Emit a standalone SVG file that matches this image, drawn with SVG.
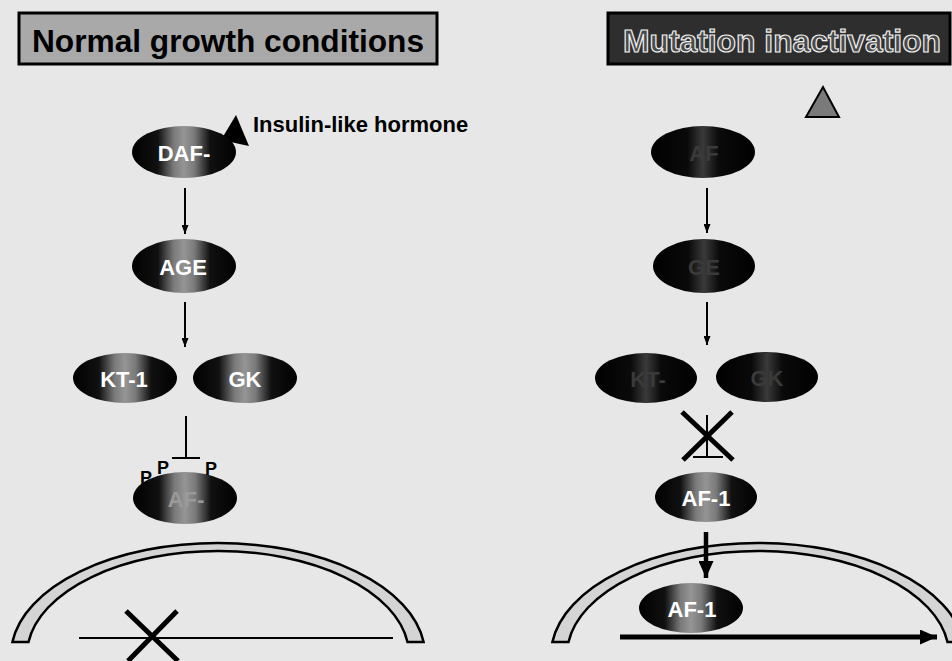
<svg xmlns="http://www.w3.org/2000/svg" width="952" height="661" viewBox="0 0 952 661">
<defs>
<linearGradient id="gL" x1="0" y1="0" x2="1" y2="0">
<stop offset="0" stop-color="#000"/><stop offset="0.25" stop-color="#111"/><stop offset="0.4" stop-color="#7a7a7a"/><stop offset="0.5" stop-color="#959595"/><stop offset="0.6" stop-color="#7a7a7a"/><stop offset="0.75" stop-color="#111"/><stop offset="1" stop-color="#000"/>
</linearGradient>
<linearGradient id="gR" x1="0" y1="0" x2="1" y2="0">
<stop offset="0" stop-color="#000"/><stop offset="0.35" stop-color="#0a0a0a"/><stop offset="0.5" stop-color="#3a3a3a"/><stop offset="0.65" stop-color="#0a0a0a"/><stop offset="1" stop-color="#000"/>
</linearGradient>
<marker id="ah" viewBox="0 0 10 10" refX="10" refY="5" markerWidth="9" markerHeight="7" markerUnits="userSpaceOnUse" orient="auto" preserveAspectRatio="none">
<path d="M0,0 L10,5 L0,10 z" fill="#000"/>
</marker>
<marker id="ahB" viewBox="0 0 10 10" refX="10" refY="5" markerWidth="17" markerHeight="15" markerUnits="userSpaceOnUse" orient="auto" preserveAspectRatio="none">
<path d="M0,0 L10,5 L0,10 z" fill="#000"/>
</marker>
<style>
.lbl{font-family:"Liberation Sans",Arial,sans-serif;font-weight:bold;}
.etxt{font-family:"Liberation Sans",Arial,sans-serif;font-weight:bold;font-size:22px;text-anchor:middle;}
.elL{fill:url(#gL);}
.elR{fill:url(#gR);}
.band{fill:#d4d4d4;stroke:#000;stroke-width:2.5;}
.thin{stroke:#000;stroke-width:2;fill:none;}
.cross{stroke:#000;stroke-width:5;fill:none;}
</style>
</defs>
<rect x="0" y="0" width="952" height="661" fill="#e7e7e7"/>

<g id="header-normal">
<rect x="19" y="13" width="418" height="51" fill="#a9a9a9" stroke="#000" stroke-width="3"/>
<text class="lbl" x="228" y="52" font-size="32" text-anchor="middle" fill="#000" textLength="392" lengthAdjust="spacingAndGlyphs">Normal growth conditions</text>
</g>
<g id="header-mutation">
<rect x="608" y="13" width="342" height="51" fill="#2e2e2e" stroke="#000" stroke-width="3"/>
<text class="lbl" x="782" y="52" font-size="32" text-anchor="middle" fill="#4a4a4a" stroke="#f0f0f0" stroke-width="1.2" textLength="318" lengthAdjust="spacingAndGlyphs">Mutation inactivation</text>
</g>

<g id="nucleus-left">
<path class="band" d="M12.4,642 A207,112 0 0 1 423.6,642 L407.5,642 A191,104 0 0 0 28.5,642 Z"/>
</g>
<g id="nucleus-right">
<path class="band" d="M552.4,642 A207,112 0 0 1 963.6,642 L947.5,642 A191,104 0 0 0 568.5,642 Z"/>
</g>

<g id="connectors">
<line class="thin" x1="185" y1="188" x2="185" y2="234" marker-end="url(#ah)"/>
<line class="thin" x1="185" y1="302" x2="185" y2="347" marker-end="url(#ah)"/>
<line class="thin" x1="186" y1="416" x2="186" y2="458"/>
<line class="thin" x1="172" y1="458" x2="200" y2="458"/>
<line class="thin" x1="707" y1="188" x2="707" y2="233" marker-end="url(#ah)"/>
<line class="thin" x1="707" y1="302" x2="707" y2="345" marker-end="url(#ah)"/>
<line class="thin" x1="707" y1="415" x2="707" y2="457"/>
<line class="thin" x1="693" y1="457" x2="723" y2="457"/>
<line x1="706" y1="532" x2="706" y2="578" stroke="#000" stroke-width="4.5" marker-end="url(#ahB)"/>
<line x1="620" y1="637" x2="937" y2="637" stroke="#000" stroke-width="5" marker-end="url(#ahB)"/>
<line class="thin" x1="79" y1="638" x2="393" y2="638"/>
</g>

<g id="hormone-left">
<polygon points="236,115 221,140 249,146" fill="#000"/>
<text class="lbl" x="253" y="132" font-size="22" fill="#000">Insulin-like hormone</text>
</g>
<g id="hormone-right">
<polygon points="823,87 806,117 839,117" fill="#7a7a7a" stroke="#000" stroke-width="2"/>
</g>

<g id="daf2-left">
<ellipse class="elL" cx="184" cy="152" rx="52" ry="26"/>
<text class="etxt" x="184" y="161" fill="#fff">DAF-</text>
</g>
<g id="age1-left">
<ellipse class="elL" cx="184" cy="266" rx="52" ry="27"/>
<text class="etxt" x="183" y="275" fill="#fff">AGE</text>
</g>
<g id="akt-left">
<ellipse class="elL" cx="125" cy="378" rx="52" ry="25"/>
<text class="etxt" x="124" y="387" fill="#fff">KT-1</text>
</g>
<g id="gk-left">
<ellipse class="elL" cx="245" cy="378" rx="52" ry="25"/>
<text class="etxt" x="245" y="387" fill="#fff">GK</text>
</g>
<g id="daf16-left">
<ellipse class="elL" cx="185" cy="498" rx="52" ry="26"/>
<text class="etxt" x="186" y="507" fill="#9a9a9a">AF-</text>
<text class="lbl" x="140" y="484" font-size="18" fill="#000">P</text>
<text class="lbl" x="157" y="474" font-size="18" fill="#000">P</text>
<text class="lbl" x="205" y="475" font-size="18" fill="#000">P</text>
</g>

<g id="daf2-right">
<ellipse class="elR" cx="703" cy="152" rx="52" ry="26"/>
<text class="etxt" x="704" y="161" fill="#3a3a3a">AF</text>
</g>
<g id="age1-right">
<ellipse class="elR" cx="704" cy="266" rx="51" ry="27"/>
<text class="etxt" x="704" y="275" fill="#3a3a3a">GE</text>
</g>
<g id="akt-right">
<ellipse class="elR" cx="646" cy="378" rx="51" ry="25"/>
<text class="etxt" x="648" y="387" fill="#3a3a3a">KT-</text>
</g>
<g id="gk-right">
<ellipse class="elR" cx="767" cy="377" rx="51" ry="25"/>
<text class="etxt" x="767" y="386" fill="#3a3a3a">GK</text>
</g>
<g id="daf16-right">
<ellipse class="elL" cx="706" cy="497" rx="51" ry="25"/>
<text class="etxt" x="706" y="506" fill="#fff">AF-1</text>
</g>

<g id="daf16-nucleus">
<ellipse class="elL" cx="691" cy="608" rx="52" ry="25"/>
<text class="etxt" x="692" y="617" fill="#fff">AF-1</text>
</g>

<g id="cross-left">
<line class="cross" x1="126" y1="611" x2="178" y2="661"/>
<line class="cross" x1="177" y1="611" x2="128" y2="661"/>
</g>
<g id="cross-right">
<line class="cross" x1="682" y1="412" x2="733" y2="460"/>
<line class="cross" x1="732" y1="412" x2="683" y2="460"/>
</g>
</svg>
